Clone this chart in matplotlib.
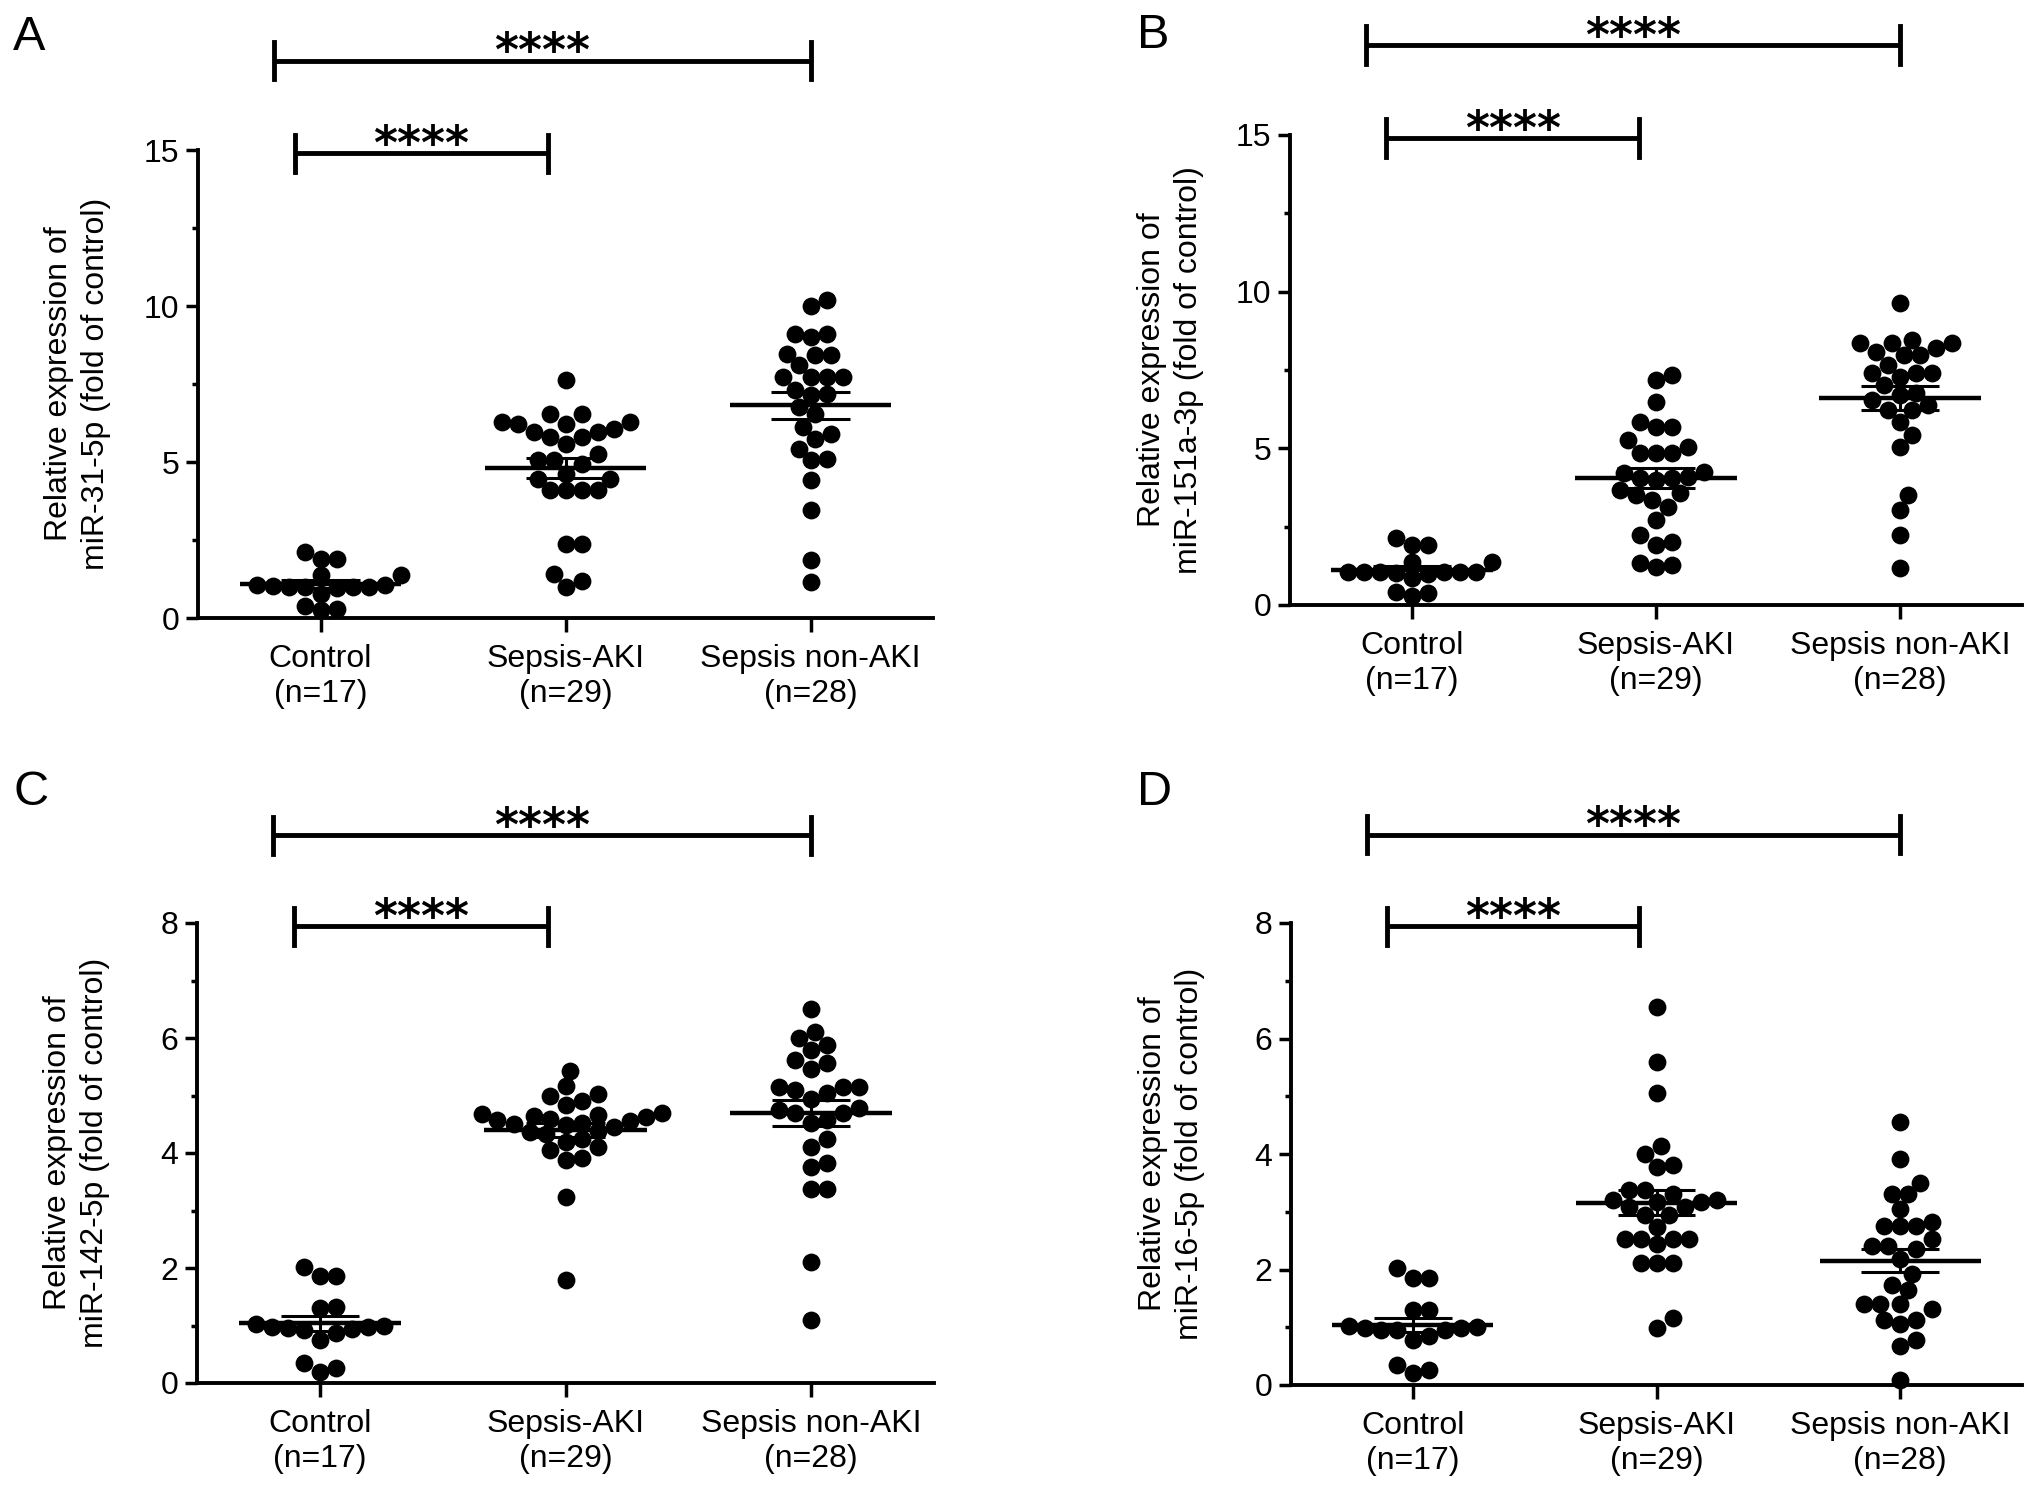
import matplotlib
matplotlib.use("Agg")
import matplotlib.pyplot as plt
import numpy as np

plt.rcParams['font.family'] = ['Liberation Sans', 'DejaVu Sans']

grupy = ["Control\n(n=17)", "Sepsis-AKI\n(n=29)", "Sepsis non-AKI\n(n=28)"]

# A - miR-31-5p
a_control = [2.12, 1.9, 1.9, 1.37, 1.37, 0.78, 1.0, 1.05, 0.95, 1.0, 1.05, 1.0, 0.98, 1.02, 0.25, 0.3, 0.4]
a_aki = [7.62, 6.55, 6.55, 6.23, 6.23, 6.28, 6.28, 6.07, 5.96, 5.96, 5.8, 5.8, 5.59, 5.27, 5.05,
         5.05, 4.95, 4.63, 4.47, 4.47, 4.09, 4.09, 4.09, 4.09, 2.38, 2.38, 1.42, 1.2, 1.0]
a_nonaki = [10.18, 9.99, 9.11, 9.11, 9.0, 8.47, 8.42, 8.42, 8.1, 7.72, 7.72, 7.72, 7.72, 7.3,
            7.19, 7.14, 6.76, 6.55, 6.12, 5.9, 5.75, 5.43, 5.1, 5.05, 4.41, 3.45, 1.85, 1.15]

# B - miR-151a-3p
b_control = [2.13, 1.91, 1.91, 1.38, 1.38, 1.06, 1.06, 1.0, 1.04, 1.06, 1.02, 1.06, 1.04, 0.85, 0.28, 0.37, 0.43]
b_aki = [7.34, 7.18, 6.49, 5.85, 5.69, 5.69, 5.27, 5.05, 4.84, 4.84, 4.84, 4.26, 4.2, 4.1, 4.04,
         4.04, 3.99, 3.67, 3.51, 3.56, 3.35, 3.14, 2.71, 2.23, 2.02, 1.91, 1.33, 1.28, 1.22]
b_nonaki = [9.63, 8.46, 8.35, 8.35, 8.35, 8.19, 8.09, 7.98, 7.98, 7.66, 7.41, 7.41, 7.41, 7.29,
            7.02, 6.76, 6.7, 6.54, 6.38, 6.22, 6.22, 5.85, 5.43, 5.05, 3.51, 3.03, 2.23, 1.17]

# C - miR-142-5p
c_control = [2.02, 1.86, 1.86, 1.3, 1.33, 0.98, 0.94, 0.95, 1.0, 1.02, 0.93, 0.98, 0.75, 0.87, 0.2, 0.26, 0.35]
c_aki = [5.43, 5.16, 5.0, 5.02, 4.9, 4.83, 4.7, 4.66, 4.62, 4.68, 4.64, 4.58, 4.55, 4.6, 4.52,
         4.48, 4.45, 4.5, 4.38, 4.33, 4.36, 4.24, 4.2, 4.1, 4.06, 3.92, 3.88, 3.24, 1.8]
c_nonaki = [6.5, 6.1, 6.0, 5.87, 5.79, 5.62, 5.57, 5.46, 5.14, 5.14, 5.14, 5.09, 5.05, 4.94,
            4.78, 4.75, 4.7, 4.7, 4.58, 4.52, 4.25, 4.1, 3.82, 3.76, 3.38, 3.38, 2.11, 1.1]

# D - miR-16-5p
d_control = [2.03, 1.86, 1.86, 1.3, 1.3, 0.99, 0.95, 0.96, 1.0, 1.02, 0.95, 0.99, 0.78, 0.84, 0.2, 0.26, 0.35]
d_aki = [6.54, 5.6, 5.05, 4.13, 4.0, 3.81, 3.78, 3.37, 3.37, 3.31, 3.2, 3.2, 3.17, 3.17, 3.08,
         3.08, 2.94, 2.94, 2.73, 2.53, 2.53, 2.53, 2.53, 2.44, 2.12, 2.12, 2.12, 1.16, 0.99]
d_nonaki = [4.56, 3.92, 3.49, 3.3, 3.3, 3.05, 2.82, 2.76, 2.76, 2.76, 2.53, 2.41, 2.41, 2.35,
            2.18, 1.92, 1.74, 1.65, 1.4, 1.4, 1.4, 1.31, 1.13, 1.13, 1.05, 0.78, 0.67, 0.09]

panele = [
    ("A", "miR-31-5p", [a_control, a_aki, a_nonaki], 15, [0, 5, 10, 15], [2.5, 7.5, 12.5]),
    ("B", "miR-151a-3p", [b_control, b_aki, b_nonaki], 15, [0, 5, 10, 15], [2.5, 7.5, 12.5]),
    ("C", "miR-142-5p", [c_control, c_aki, c_nonaki], 8, [0, 2, 4, 6, 8], [1, 3, 5, 7]),
    ("D", "miR-16-5p", [d_control, d_aki, d_nonaki], 8, [0, 2, 4, 6, 8], [1, 3, 5, 7]),
]

W, H = 2032, 1498
# polozenie osi w pikselach: lewo, gora(y=max), prawo, dol(y=0)
osie_px = [(198, 150, 933, 618), (1290, 135, 2022, 605),
           (197, 923, 934, 1383), (1291, 923, 2022, 1385)]
litery_px = [(13, 50), (1137, 48), (13, 805), (1137, 805)]

XMIN, XMAX = -0.5, 2.5


def roj(wartosci, px_x, px_y, d=16.0, krok=4.0):
    # prosty beeswarm liczony w pikselach
    y = np.asarray(wartosci, dtype=float) * px_y
    kolejnosc = np.argsort(y)
    polozone = []
    off = np.zeros(len(y))
    for i in kolejnosc:
        k = 0
        wybor = None
        while wybor is None:
            kandydaci = [0.0] if k == 0 else [k * krok, -k * krok]
            for c in kandydaci:
                if all((c - px) ** 2 + (y[i] - py) ** 2 >= d * d for px, py in polozone):
                    wybor = c
                    break
            k += 1
        off[i] = wybor
        polozone.append((wybor, y[i]))
    return off / px_x


fig = plt.figure(figsize=(W / 100, H / 100), dpi=100)

for (litera, mir, grupy_dane, ymax, major, minor), (l, t, r, b), (lx, ly) in zip(panele, osie_px, litery_px):
    ax = fig.add_axes([l / W, 1 - b / H, (r - l) / W, (b - t) / H])
    px_x = (r - l) / (XMAX - XMIN)
    px_y = (b - t) / ymax

    for i, dane in enumerate(grupy_dane):
        dane = np.asarray(dane)
        xs = i + roj(dane, px_x, px_y)
        ax.scatter(xs, dane, s=165, color='black', linewidths=0, zorder=3, clip_on=False)
        m = dane.mean()
        sem = dane.std(ddof=1) / np.sqrt(len(dane))
        ax.plot([i - 0.33, i + 0.33], [m, m], color='black', lw=3.2, zorder=4, solid_capstyle='butt')
        ax.plot([i, i], [m - sem, m + sem], color='black', lw=2.2, zorder=4)
        for v in (m - sem, m + sem):
            ax.plot([i - 0.16, i + 0.16], [v, v], color='black', lw=2.2, zorder=4, solid_capstyle='butt')

    ax.set_xlim(XMIN, XMAX)
    ax.set_ylim(0, ymax)
    ax.set_xticks([0, 1, 2])
    ax.set_xticklabels(grupy)
    ax.set_yticks(major)
    ax.set_yticks(minor, minor=True)
    ax.tick_params(axis='x', length=10, width=2.5, pad=9, labelsize=23)
    ax.tick_params(axis='y', which='major', length=8.5, width=2.5, pad=5, labelsize=23)
    ax.tick_params(axis='y', which='minor', length=4.5, width=2.5)
    for s in ['top', 'right']:
        ax.spines[s].set_visible(False)
    for s in ['left', 'bottom']:
        ax.spines[s].set_linewidth(2.8)

    ax.set_ylabel("Relative expression of\n" + mir + " (fold of control)", fontsize=23, linespacing=1.3)
    ax.yaxis.set_label_coords(-0.118, 0.5)

    # klamry istotnosci
    tr = ax.get_xaxis_transform()
    for x0, x1, yb in [(-0.19, 2.0, 1.191), (-0.105, 0.93, 0.993)]:
        ax.plot([x0, x1], [yb, yb], color='black', lw=3.5, transform=tr, clip_on=False,
                solid_capstyle='butt')
        for xx in (x0, x1):
            ax.plot([xx, xx], [yb - 0.04, yb + 0.04], color='black', lw=3.5, transform=tr,
                    clip_on=False)
        ax.annotate("****", xy=((x0 + x1) / 2, yb), xytext=(0, -4), xycoords=tr,
                    textcoords='offset points', ha='center', va='baseline', fontsize=33,
                    fontweight='bold', family='DejaVu Sans')

    fig.text(lx / W, 1 - ly / H, litera, fontsize=35, ha='left', va='baseline')

fig.savefig("out.png", dpi=100, facecolor='white')
